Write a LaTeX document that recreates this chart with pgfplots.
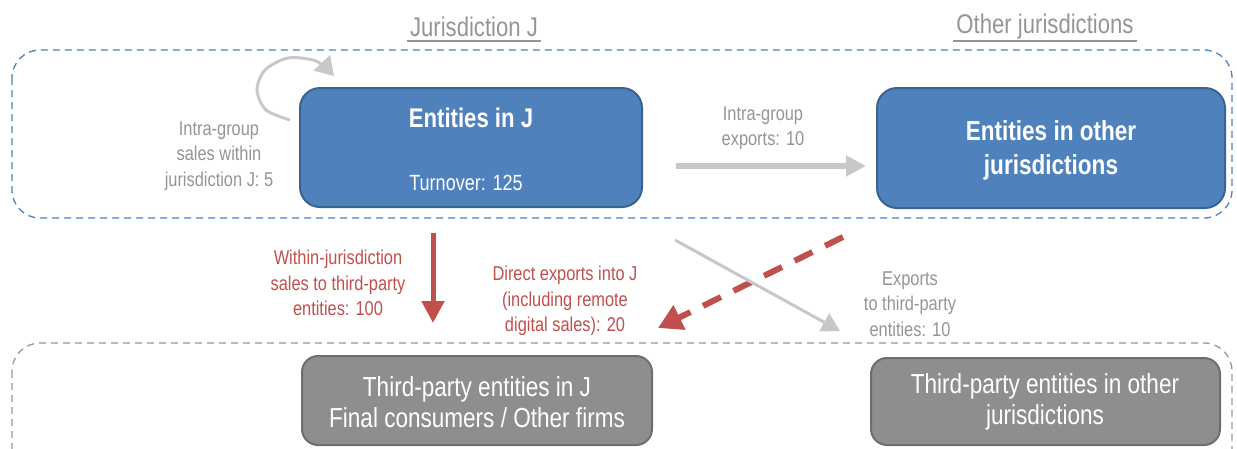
\documentclass[border=0pt]{standalone}
\usepackage{fontspec}
\setmainfont[FakeStretch=0.82]{Liberation Sans}
\usepackage{xcolor}
\usepackage{pgfplots}
\pgfplotsset{compat=1.18}
\usetikzlibrary{arrows.meta}

\definecolor{boxblue}{HTML}{4F81BD}
\definecolor{boxblueedge}{HTML}{3A6390}
\definecolor{flowred}{HTML}{C0504D}
\definecolor{txtgray}{HTML}{959595}
\definecolor{arrgray}{HTML}{C8C8C8}
\definecolor{boxgray}{HTML}{8E8E8E}
\definecolor{boxgrayedge}{HTML}{6E6E6E}
\definecolor{dashgray}{HTML}{9A9A9A}

\begin{document}
\begin{tikzpicture}
\begin{axis}[
  scale only axis,
  width=1237pt, height=448pt,
  xmin=0, xmax=1237, ymin=0, ymax=448,
  y dir=reverse,
  hide axis,
  clip=false,
]
% jurisdiction frames
\draw[boxblue, line width=1.3pt, dash pattern=on 7pt off 5pt, rounded corners=28pt]
  (axis cs:12,50) rectangle (axis cs:1232,218);
\draw[dashgray, line width=1.3pt, dash pattern=on 7pt off 5pt, rounded corners=28pt]
  (axis cs:12,343) rectangle (axis cs:1232,480);

% titles
\node[txtgray, font=\fontsize{27}{30}\selectfont] at (axis cs:474,27) {Jurisdiction J};
\draw[txtgray, line width=1.5pt] (axis cs:407,41) -- (axis cs:541,41);
\node[txtgray, font=\fontsize{27}{30}\selectfont] at (axis cs:1045,27) {Other jurisdictions};
\draw[txtgray, line width=1.5pt] (axis cs:953,41) -- (axis cs:1137,41);

% group entity boxes
\draw[fill=boxblue, draw=boxblueedge, line width=2pt, rounded corners=20pt]
  (axis cs:300,88) rectangle (axis cs:642,207);
\node[white, font=\bfseries\fontsize{27}{30}\selectfont] at (axis cs:471,118) {Entities in J};
\node[white, font=\fontsize{22}{26}\selectfont] at (axis cs:466,183) {Turnover: 125};

\draw[fill=boxblue, draw=boxblueedge, line width=2pt, rounded corners=20pt]
  (axis cs:877,88) rectangle (axis cs:1225,208);
\node[white, font=\bfseries\fontsize{27.5}{34}\selectfont, align=center] at (axis cs:1051,150)
  {Entities in other\\jurisdictions};

% third-party boxes
\draw[fill=boxgray, draw=boxgrayedge, line width=2pt, rounded corners=16pt]
  (axis cs:302,356) rectangle (axis cs:652,445);
\node[white, font=\fontsize{27.5}{31.5}\selectfont, align=center] at (axis cs:477,402)
  {Third-party entities in J\\Final consumers / Other firms};
\draw[fill=boxgray, draw=boxgrayedge, line width=2pt, rounded corners=16pt]
  (axis cs:871,358) rectangle (axis cs:1220,445);
\node[white, font=\fontsize{27.5}{31.5}\selectfont, align=center] at (axis cs:1045,402)
  {Third-party entities in other\\jurisdictions};

% intra-group within J (loop arrow)
\addplot[arrgray, line width=3pt, smooth, -{Triangle[length=18pt,width=22pt]}]
  coordinates {(290,120) (266,110) (257,90) (265,70) (288,58) (316,61) (334,76)};
\node[txtgray, font=\fontsize{20}{25.5}\selectfont, align=center] at (axis cs:219,156)
  {Intra-group\\sales within\\jurisdiction J: 5};

% intra-group exports
\addplot[arrgray, line width=6pt, -{Triangle[length=20pt,width=20pt]}]
  coordinates {(676,166) (866,166)};
\node[txtgray, font=\fontsize{20}{25.5}\selectfont, align=center] at (axis cs:763,128)
  {Intra-group\\exports: 10};

% within-jurisdiction sales
\addplot[flowred, line width=5pt, -{Triangle[length=22pt,width=22pt]}]
  coordinates {(433,233) (433,323)};
\node[flowred, font=\fontsize{20}{25.5}\selectfont, align=center] at (axis cs:338,283)
  {Within-jurisdiction\\sales to third-party\\entities: 100};

% direct exports into J
\addplot[flowred, line width=6pt, dash pattern=on 20pt off 14pt, -{Triangle[length=24pt,width=26pt]}]
  coordinates {(843,237) (658,328)};
\node[flowred, font=\fontsize{20}{25.5}\selectfont, align=center] at (axis cs:565,301)
  {Direct exports into J\\(including remote\\digital sales): 20};

% exports to third parties abroad
\addplot[arrgray, line width=3pt, -{Triangle[length=18pt,width=20pt]}]
  coordinates {(675,240) (840,331)};
\node[txtgray, font=\fontsize{20}{25.5}\selectfont, align=center] at (axis cs:910,304)
  {Exports\\to third-party\\entities: 10};
\end{axis}
\pgfresetboundingbox
\path[use as bounding box] (current axis.south west) rectangle (current axis.north east);
\end{tikzpicture}
\end{document}
